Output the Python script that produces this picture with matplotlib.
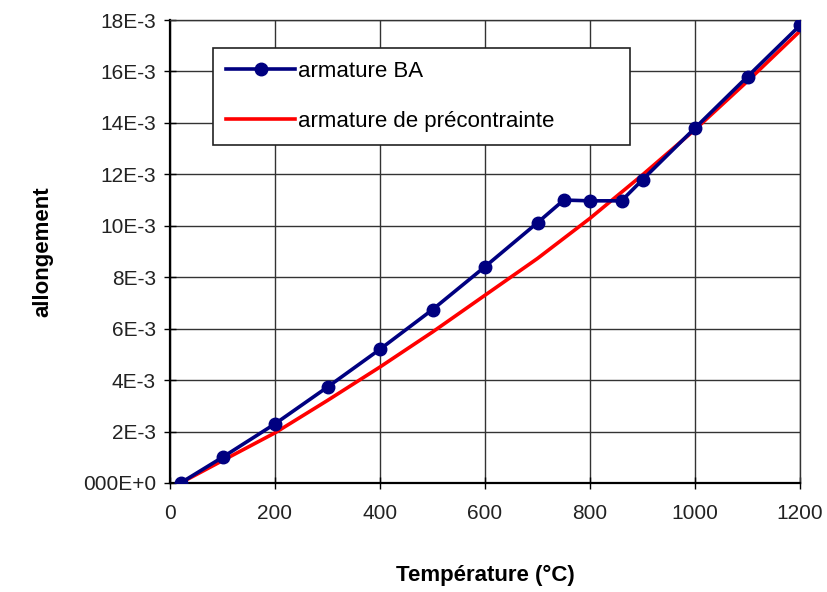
import numpy as np
import matplotlib.pyplot as plt
from matplotlib.ticker import FixedLocator

plt.rcParams['font.family'] = ['Liberation Sans', 'DejaVu Sans']

# armature BA (measured points)
temp_ba = [20, 100, 200, 300, 400, 500, 600, 700, 750, 800, 860, 900, 1000, 1100, 1200]
allong_ba = [0.0, 1.0e-3, 2.3e-3, 3.73e-3, 5.2e-3, 6.74e-3, 8.41e-3, 10.12e-3,
             11.0e-3, 10.97e-3, 10.97e-3, 11.79e-3, 13.8e-3, 15.8e-3, 17.79e-3]

# armature de precontrainte (smooth curve, read every 100 degC)
temp_pc = [20, 100, 200, 300, 400, 500, 600, 700, 800, 900, 1000, 1100, 1200]
allong_pc = [0.0, 0.87e-3, 1.95e-3, 3.21e-3, 4.51e-3, 5.87e-3, 7.30e-3, 8.73e-3,
             10.29e-3, 11.98e-3, 13.74e-3, 15.62e-3, 17.57e-3]

x_ticks = [0, 200, 400, 600, 800, 1000, 1200]
y_ticks = [i * 2e-3 for i in range(10)]
y_labels = ['000E+0'] + [f'{2 * i}E-3' for i in range(1, 10)]

fig = plt.figure(figsize=(8.27, 5.92), dpi=100)
ax = fig.add_axes([170 / 827, 1 - 483 / 592, 630 / 827, 463 / 592])

ax.plot(temp_pc, allong_pc, color='#ff0000', lw=2.6, label='armature de précontrainte',
        zorder=3)
ax.plot(temp_ba, allong_ba, color='#000080', lw=2.6, marker='o', ms=9,
        label='armature BA', zorder=4)

ax.set_xlim(0, 1200)
ax.set_ylim(0, 18e-3)
ax.xaxis.set_major_locator(FixedLocator(x_ticks))
ax.yaxis.set_major_locator(FixedLocator(y_ticks))
ax.set_yticklabels(y_labels)
ax.grid(True, color='#333333', lw=1.0)
ax.set_axisbelow(True)
for s in ax.spines.values():
    s.set_color('#333333')
    s.set_linewidth(1.0)
ax.spines['left'].set_linewidth(1.6)
ax.spines['bottom'].set_linewidth(1.6)
ax.spines['left'].set_color('black')
ax.spines['bottom'].set_color('black')
ax.tick_params(direction='inout', length=8, width=1, labelsize=15,
               labelcolor='#222222')
ax.tick_params(axis='x', pad=11)
ax.tick_params(axis='y', pad=6)

ax.set_xlabel('Température (°C)', fontsize=16, fontweight='bold', labelpad=30)
ax.set_ylabel('allongement', fontsize=16, fontweight='bold', labelpad=21)

handles, labels = ax.get_legend_handles_labels()
leg = ax.legend(handles[::-1], labels[::-1], loc='upper left',
                bbox_to_anchor=(0.068, 0.73, 0.662, 0.21), mode='expand',
                borderaxespad=0, fontsize=16, frameon=True, fancybox=False,
                framealpha=1, edgecolor='#222222', handlelength=3.1,
                labelspacing=1.28, borderpad=0.6, handletextpad=0.15)
leg.get_frame().set_linewidth(1.2)

fig.savefig('out.png', dpi=100)
